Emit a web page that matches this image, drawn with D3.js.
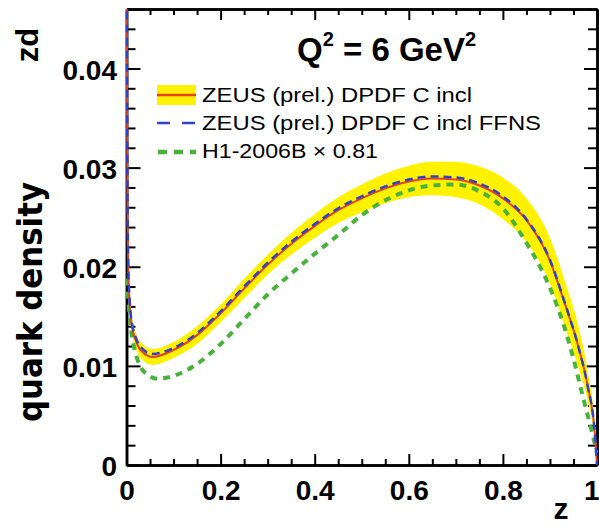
<!DOCTYPE html>
<html>
<head>
<meta charset="utf-8">
<script src="https://cdn.jsdelivr.net/npm/d3@7"></script>
<style>
  html, body { margin: 0; padding: 0; background: #fff; }
  svg { display: block; }
</style>
</head>
<body>
<svg id="chart" width="599" height="528"></svg>
<script>
// ---------- data ----------
const xTickValues = [0, 0.2, 0.4, 0.6, 0.8, 1];
const xTickLabels = ["0", "0.2", "0.4", "0.6", "0.8", "1"];
const yTickValues = [0, 0.01, 0.02, 0.03, 0.04];
const yTickLabels = ["0", "0.01", "0.02", "0.03", "0.04"];

// ZEUS (prel.) DPDF C incl — z grid, central value and error band
const zeusZ = [0.0005, 0.001, 0.002, 0.004, 0.0075, 0.012, 0.018, 0.03, 0.055, 0.1, 0.15, 0.2, 0.25, 0.3, 0.35, 0.4, 0.45, 0.5, 0.55, 0.6, 0.65, 0.7, 0.75, 0.8, 0.85, 0.9, 0.93, 0.96, 0.98, 0.995, 1];
const zeusCentral = [0.050, 0.040, 0.028, 0.0195, 0.0158, 0.0139, 0.0128, 0.0116, 0.0109, 0.0116, 0.0131, 0.0153, 0.0178, 0.0202, 0.0223, 0.0241, 0.0257, 0.0269, 0.0279, 0.0286, 0.0289, 0.0288, 0.0282, 0.0269, 0.0247, 0.0206, 0.0165, 0.0120, 0.0080, 0.0034, 0];
const zeusUpper = [0.0503, 0.0404, 0.0285, 0.0201, 0.0165, 0.0146, 0.0136, 0.0124, 0.0117, 0.0124, 0.0140, 0.0162, 0.0188, 0.0212, 0.0234, 0.0253, 0.0270, 0.0283, 0.0294, 0.0302, 0.0306, 0.0306, 0.0301, 0.0290, 0.0269, 0.0229, 0.0188, 0.0141, 0.0095, 0.0041, 0];
const zeusLower = [0.0497, 0.0396, 0.0275, 0.0189, 0.0151, 0.0132, 0.0120, 0.0108, 0.0101, 0.0108, 0.0122, 0.0144, 0.0168, 0.0192, 0.0212, 0.0229, 0.0244, 0.0255, 0.0264, 0.0270, 0.0272, 0.0270, 0.0263, 0.0248, 0.0225, 0.0183, 0.0142, 0.0099, 0.0065, 0.0027, 0];

// ZEUS (prel.) DPDF C incl FFNS (same z grid)
const ffnsValues = [0.051, 0.041, 0.029, 0.0198, 0.0161, 0.0142, 0.0131, 0.0119, 0.0112, 0.0118, 0.0133, 0.0155, 0.0180, 0.0204, 0.0225, 0.0243, 0.0259, 0.0271, 0.0281, 0.0288, 0.0291, 0.0290, 0.0284, 0.0271, 0.0248, 0.0207, 0.0166, 0.0120, 0.0080, 0.0034, 0];

// H1-2006B x 0.81
const h1Z = [0, 0.002, 0.005, 0.01, 0.018, 0.03, 0.045, 0.065, 0.1, 0.15, 0.2, 0.25, 0.3, 0.35, 0.4, 0.45, 0.5, 0.55, 0.6, 0.65, 0.7, 0.75, 0.8, 0.85, 0.88, 0.905, 0.93, 0.95, 0.97, 0.99, 1];
const h1Values = [0.0188, 0.0180, 0.0160, 0.0135, 0.0115, 0.0099, 0.0091, 0.0087, 0.0090, 0.0102, 0.0122, 0.0147, 0.0172, 0.0193, 0.0213, 0.0232, 0.0252, 0.0267, 0.0277, 0.0282, 0.0283, 0.0276, 0.0259, 0.0224, 0.0199, 0.0173, 0.0140, 0.0107, 0.0069, 0.0032, 0.0012];

const legendLabels = ["ZEUS (prel.) DPDF C incl", "ZEUS (prel.) DPDF C incl FFNS", "H1-2006B \u00d7 0.81"];

// ---------- drawing ----------
const svg = d3.select("#chart");
const L = 126.5, R = 597, T = 9, B = 465;
const x = d3.scaleLinear().domain([0, 1]).range([L, R]);
const y = d3.scaleLinear().domain([0, 0.046]).range([B, T]);

const COL_RED = "#e2451f", COL_YEL = "#fff200", COL_BLUE = "#3340c8", COL_GREEN = "#49b23c";
const tickFont = "'Liberation Sans', Arial, Helvetica, sans-serif";

const xMinor = d3.range(0, 1.0001, 0.05).filter(v => !xTickValues.some(t => Math.abs(t - v) < 1e-6));
const yMinor = d3.range(0, 0.0461, 0.002).filter(v => !yTickValues.some(t => Math.abs(t - v) < 1e-7));

function styleAxis(g) {
  g.select(".domain").attr("stroke", "#000").attr("stroke-width", 2.5);
  g.selectAll(".tick line").attr("stroke", "#000").attr("stroke-width", 2);
  g.selectAll(".tick text").attr("font-family", tickFont).attr("font-weight", "bold")
    .attr("font-size", 28).attr("fill", "#000");
}

// bottom
svg.append("g").attr("transform", `translate(0,${B})`)
  .call(d3.axisBottom(x).tickValues(xMinor).tickSize(-6).tickSizeOuter(0).tickFormat(""))
  .call(styleAxis);
svg.append("g").attr("transform", `translate(0,${B})`)
  .call(d3.axisBottom(x).tickValues(xTickValues).tickSize(-11).tickSizeOuter(0).tickPadding(15)
    .tickFormat((d, i) => xTickLabels[i]))
  .call(styleAxis)
  .call(g => g.selectAll(".tick text").filter(d => d === 1)
    .attr("text-anchor", "end").attr("x", 599 - R));
// top
svg.append("g").attr("transform", `translate(0,${T})`)
  .call(d3.axisTop(x).tickValues(xMinor).tickSize(-6).tickSizeOuter(0).tickFormat(""))
  .call(styleAxis);
svg.append("g").attr("transform", `translate(0,${T})`)
  .call(d3.axisTop(x).tickValues(xTickValues).tickSize(-11).tickSizeOuter(0).tickFormat(""))
  .call(styleAxis);
// left
svg.append("g").attr("transform", `translate(${L},0)`)
  .call(d3.axisLeft(y).tickValues(yMinor).tickSize(-9).tickSizeOuter(0).tickFormat(""))
  .call(styleAxis);
svg.append("g").attr("transform", `translate(${L},0)`)
  .call(d3.axisLeft(y).tickValues(yTickValues).tickSize(-14).tickSizeOuter(0).tickPadding(9.5)
    .tickFormat((d, i) => yTickLabels[i]))
  .call(styleAxis)
  .call(g => g.selectAll(".tick text").attr("dy", "0.38em"));
// right
svg.append("g").attr("transform", `translate(${R},0)`)
  .call(d3.axisRight(y).tickValues(yMinor).tickSize(-9).tickSizeOuter(0).tickFormat(""))
  .call(styleAxis);
svg.append("g").attr("transform", `translate(${R},0)`)
  .call(d3.axisRight(y).tickValues(yTickValues).tickSize(-13).tickSizeOuter(0).tickFormat(""))
  .call(styleAxis);

// clip
svg.append("clipPath").attr("id", "plotclip").append("rect")
  .attr("x", L - 1).attr("y", T).attr("width", R - L + 2).attr("height", B - T + 1);
const plot = svg.append("g").attr("clip-path", "url(#plotclip)");

const zeusRows = zeusZ.map((z, i) => ({ z, c: zeusCentral[i], lo: zeusLower[i], hi: zeusUpper[i], f: ffnsValues[i] }));
const h1Rows = h1Z.map((z, i) => ({ z, v: h1Values[i] }));

plot.append("path").datum(zeusRows)
  .attr("fill", COL_YEL)
  .attr("d", d3.area().x(d => x(d.z)).y0(d => y(d.lo)).y1(d => y(d.hi)).curve(d3.curveMonotoneX));

plot.append("path").datum(h1Rows)
  .attr("fill", "none").attr("stroke", COL_GREEN).attr("stroke-width", 4)
  .attr("stroke-dasharray", "7,6")
  .attr("d", d3.line().x(d => x(d.z)).y(d => y(d.v)).curve(d3.curveMonotoneX));

plot.append("path").datum(zeusRows)
  .attr("fill", "none").attr("stroke", COL_RED).attr("stroke-width", 2)
  .attr("d", d3.line().x(d => x(d.z)).y(d => y(d.c)).curve(d3.curveMonotoneX));

plot.append("path").datum(zeusRows)
  .attr("fill", "none").attr("stroke", COL_BLUE).attr("stroke-width", 2.5)
  .attr("stroke-dasharray", "8,5")
  .attr("d", d3.line().x(d => x(d.z)).y(d => y(d.f)).curve(d3.curveMonotoneX));

// title
const title = svg.append("text").attr("x", 297).attr("y", 61)
  .attr("font-family", tickFont).attr("font-weight", "bold").attr("font-size", 33).attr("fill", "#000");
title.append("tspan").text("Q");
title.append("tspan").attr("font-size", 20).attr("dy", -15).text("2");
title.append("tspan").attr("dy", 15).text(" = 6 GeV");
title.append("tspan").attr("font-size", 20).attr("dy", -15).text("2");

// legend
const lg = svg.append("g");
const sx0 = 157, sx1 = 196;
const rowY = [95, 123, 152];
const textBase = [102, 130, 158];
const textLens = [270, 339, 176];
lg.append("rect").attr("x", sx0).attr("y", rowY[0] - 10).attr("width", sx1 - sx0).attr("height", 20).attr("fill", COL_YEL);
lg.append("line").attr("x1", sx0).attr("x2", sx1).attr("y1", rowY[0]).attr("y2", rowY[0])
  .attr("stroke", COL_RED).attr("stroke-width", 2.5);
lg.append("line").attr("x1", sx0).attr("x2", sx1).attr("y1", rowY[1]).attr("y2", rowY[1])
  .attr("stroke", COL_BLUE).attr("stroke-width", 2.5).attr("stroke-dasharray", "13,12");
lg.append("line").attr("x1", sx0 + 1).attr("x2", sx1).attr("y1", rowY[2]).attr("y2", rowY[2])
  .attr("stroke", COL_GREEN).attr("stroke-width", 4.5).attr("stroke-dasharray", "9,7");
legendLabels.forEach((t, i) => {
  lg.append("text").attr("x", 202).attr("y", textBase[i])
    .attr("font-family", tickFont).attr("font-size", 20).attr("fill", "#000")
    .attr("textLength", textLens[i]).attr("lengthAdjust", "spacingAndGlyphs")
    .text(t);
});

// axis titles
svg.append("text").attr("x", 561).attr("y", 519).attr("text-anchor", "middle")
  .attr("font-family", tickFont).attr("font-weight", "bold").attr("font-size", 30).text("z");
svg.append("text").attr("transform", "translate(38,45) rotate(-90)").attr("text-anchor", "middle")
  .attr("font-family", tickFont).attr("font-weight", "bold").attr("font-size", 31).text("zd");
svg.append("text").attr("transform", "translate(42,302) rotate(-90)").attr("text-anchor", "middle")
  .attr("font-family", "'DejaVu Sans', sans-serif").attr("font-weight", "bold").attr("font-size", 34)
  .attr("textLength", 240).attr("lengthAdjust", "spacingAndGlyphs")
  .text("quark density");
</script>
</body>
</html>
